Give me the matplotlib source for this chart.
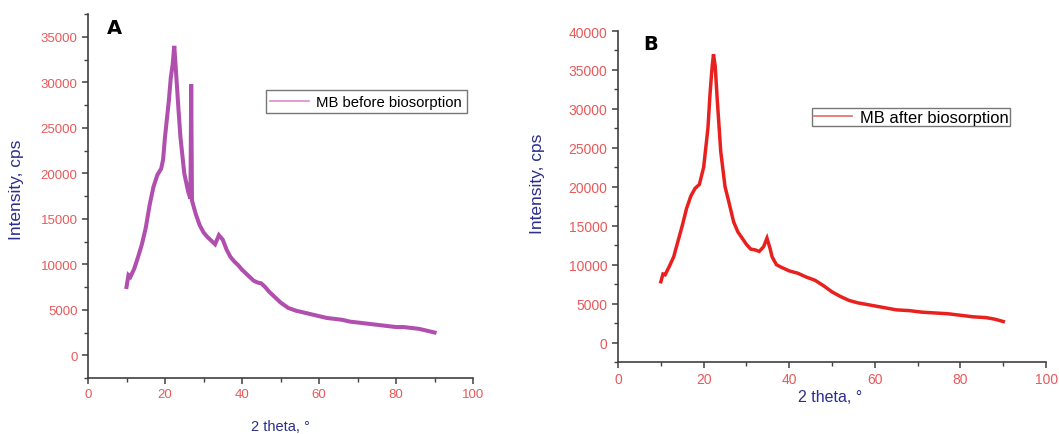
import matplotlib
matplotlib.use('Agg')
import matplotlib.pyplot as plt
from matplotlib.ticker import MultipleLocator

plt.rcParams['font.family'] = ['Liberation Sans', 'DejaVu Sans']

# XRD pattern of MB before biosorption
theta_a = [10, 10.5, 11, 12, 13, 14, 15, 16, 17, 18, 19, 19.5, 20, 21, 21.5, 22, 22.4,
           22.8, 23.5, 24, 25, 26, 26.6, 26.8, 27, 28, 29, 30, 31, 32, 33, 34, 35, 36,
           37, 38, 39, 40, 41, 42, 43, 44, 45, 46, 47, 48, 49, 50, 51, 52, 54, 56, 58,
           60, 62, 64, 66, 68, 70, 72, 74, 76, 78, 80, 82, 84, 86, 88, 90]
counts_a = [7500, 8800, 8600, 9500, 10800, 12200, 14000, 16500, 18500, 19800, 20500,
            21500, 24000, 28000, 30500, 32000, 34000, 31500, 27000, 24000, 20000, 18000,
            17200, 29800, 17000, 15500, 14300, 13500, 13000, 12600, 12200, 13200, 12700,
            11600, 10800, 10300, 9900, 9400, 9000, 8600, 8200, 8000, 7900, 7500, 7000,
            6600, 6200, 5800, 5500, 5200, 4900, 4700, 4500, 4300, 4100, 4000, 3900, 3700,
            3600, 3500, 3400, 3300, 3200, 3100, 3100, 3000, 2900, 2700, 2500]

# XRD pattern of MB after biosorption
theta_b = [10, 10.5, 11, 12, 13, 14, 15, 16, 17, 18, 19, 20, 21, 21.5, 22, 22.3, 22.7,
           23.2, 24, 25, 26, 27, 28, 29, 30, 31, 32, 33, 34, 34.8, 35.5, 36, 37, 38, 40,
           42, 44, 46, 48, 50, 52, 54, 56, 58, 60, 62, 65, 68, 71, 74, 77, 80, 83, 86,
           88, 90]
counts_b = [7800, 8800, 8700, 9800, 11000, 13000, 15000, 17200, 18800, 19800, 20300,
            22500, 27500, 32000, 35500, 37000, 35500, 31000, 24500, 20000, 17800, 15500,
            14200, 13400, 12600, 12000, 11900, 11700, 12300, 13400, 12100, 11000, 10000,
            9700, 9200, 8900, 8400, 8000, 7300, 6500, 5900, 5400, 5100, 4900, 4700, 4500,
            4200, 4100, 3900, 3800, 3700, 3500, 3300, 3200, 3000, 2700]

tick_col = '#e8595a'
label_col = '#2b2f8c'
axis_col = '#404040'

fig = plt.figure(figsize=(10.59, 4.35), dpi=100)
ax_a = fig.add_axes([0.0831, 0.1287, 0.3636, 0.8368])
ax_b = fig.add_axes([0.5836, 0.1655, 0.4042, 0.7609])


def style_axes(ax, ymax, ystep, fsize):
    ax.set_xlim(0, 100)
    ax.set_ylim(-2500, ymax)
    ax.xaxis.set_major_locator(MultipleLocator(20))
    ax.xaxis.set_minor_locator(MultipleLocator(10))
    ax.yaxis.set_major_locator(MultipleLocator(ystep))
    ax.yaxis.set_minor_locator(MultipleLocator(ystep / 2))
    for side in ['top', 'right']:
        ax.spines[side].set_visible(False)
    for side in ['left', 'bottom']:
        ax.spines[side].set_color(axis_col)
        ax.spines[side].set_linewidth(1.2)
    ax.tick_params(which='major', direction='out', length=4, width=1.1,
                   color=axis_col, labelcolor=tick_col, labelsize=fsize)
    ax.tick_params(which='minor', direction='out', length=3, width=1.0, color=axis_col)


# panel A
ax_a.plot(theta_a, counts_a, color='#b04fae', lw=2.9, solid_joinstyle='miter')
style_axes(ax_a, 37500, 5000, 9.5)
ax_a.set_ylabel('Intensity, cps', color=label_col, fontsize=12.5)
ax_a.yaxis.set_label_coords(-0.166, 0.52)
ax_a.set_xlabel('2 theta, °', color=label_col, fontsize=10.5)
ax_a.xaxis.set_label_coords(0.50, -0.113)
ax_a.text(0.05, 0.99, 'A', transform=ax_a.transAxes, fontsize=14,
          fontweight='bold', family='DejaVu Sans', va='top')
leg_a = ax_a.legend(handles=[plt.Line2D([], [], color='#d88ccc', lw=1.2)],
                    labels=['MB before biosorption'], loc='upper left',
                    bbox_to_anchor=(0.462, 0.79), fontsize=10.7, fancybox=False,
                    handlelength=2.6, borderpad=0.3, borderaxespad=0,
                    handletextpad=0.5)
leg_a.get_frame().set_edgecolor('#555555')
leg_a.get_frame().set_linewidth(1.0)

# panel B
ax_b.plot(theta_b, counts_b, color='#e8211f', lw=2.5, solid_joinstyle='miter')
style_axes(ax_b, 40000, 5000, 10)
ax_b.set_ylabel('Intensity, cps', color=label_col, fontsize=12.5)
ax_b.yaxis.set_label_coords(-0.17, 0.54)
ax_b.set_xlabel('2 theta, °', color=label_col, fontsize=11.5)
ax_b.xaxis.set_label_coords(0.495, -0.082)
ax_b.text(0.058, 0.991, 'B', transform=ax_b.transAxes, fontsize=14,
          fontweight='bold', family='DejaVu Sans', va='top')
leg_b = ax_b.legend(handles=[plt.Line2D([], [], color='#e06a6a', lw=1.2)],
                    labels=['MB after biosorption'], loc='upper left',
                    bbox_to_anchor=(0.453, 0.767), fontsize=11.9, fancybox=False,
                    handlelength=2.3, borderpad=0.1, borderaxespad=0,
                    handletextpad=0.5)
leg_b.get_frame().set_edgecolor('#555555')
leg_b.get_frame().set_linewidth(1.0)

plt.savefig('out.png', dpi=100)
